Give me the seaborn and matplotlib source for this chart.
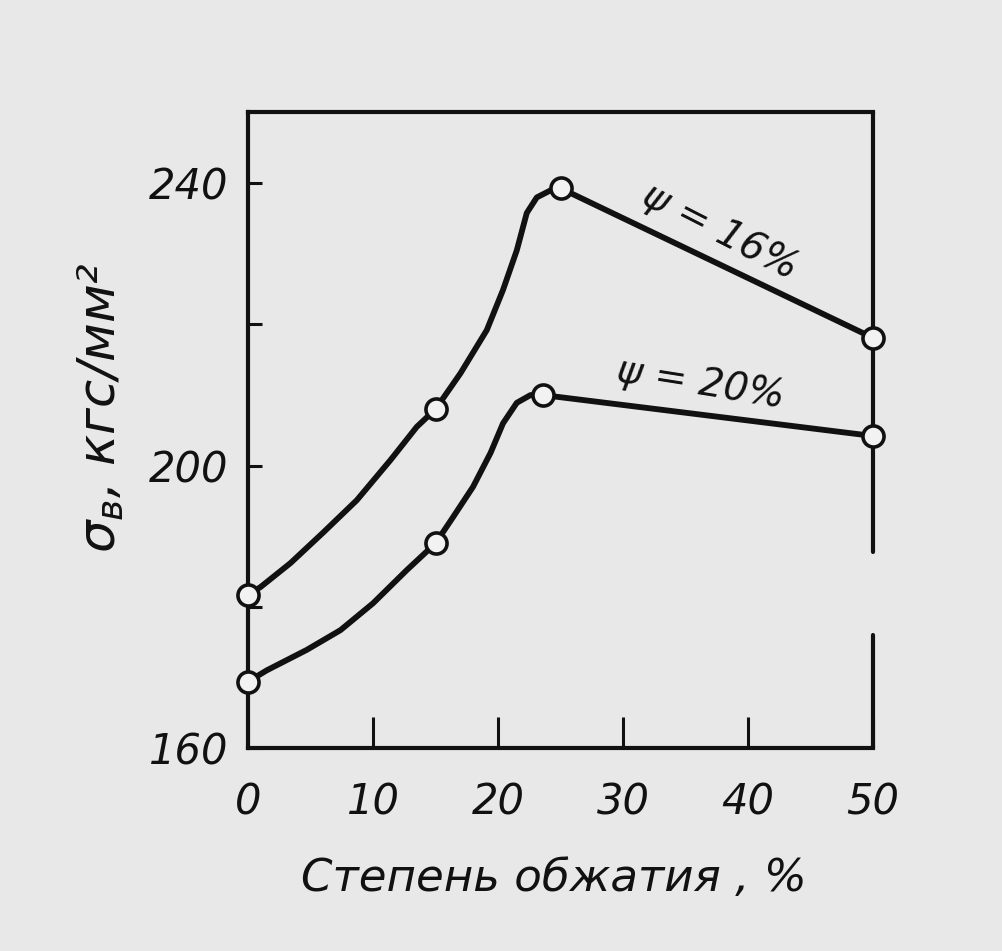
import numpy as np
import pandas as pd
import matplotlib
matplotlib.use("Agg")
import matplotlib.pyplot as plt
import seaborn as sns

# measured points (circles)
x_meas_16 = [0, 15, 25, 50]
y_meas_16 = [181.7, 208.0, 239.3, 218.1]
x_meas_20 = [0, 15, 23.6, 50]
y_meas_20 = [169.4, 189.0, 210.0, 204.2]

# hand-drawn curves
trace_x_16 = [0, 1.0, 3.4, 6.0, 8.7, 11.4, 13.5, 15, 17.0, 19.1, 20.4, 21.5, 22.3, 23.1, 24.2, 25, 50]
trace_y_16 = [181.7, 182.8, 186.2, 190.5, 195.1, 200.8, 205.5, 208.0, 213.1, 219.2, 224.9, 230.5, 235.8, 238.0, 239.0, 239.3, 218.1]
trace_x_20 = [0, 1.5, 4.7, 7.4, 10.0, 12.7, 15, 16.4, 18.0, 19.4, 20.4, 21.5, 22.6, 23.6, 50]
trace_y_20 = [169.4, 171.0, 173.9, 176.7, 180.5, 185.2, 189.0, 192.7, 197.0, 201.8, 206.0, 208.9, 210.0, 210.0, 204.2]

series_labels = ["ψ = 16%", "ψ = 20%"]
x_ticks = [0, 10, 20, 30, 40, 50]
y_ticks = [160, 180, 200, 220, 240]
y_ticklabels = ["160", "", "200", "", "240"]

paper = "#e8e8e8"
ink = "#111111"

sns.set_theme(style="ticks")
plt.rcParams["font.family"] = ["DejaVu Sans"]
plt.rcParams["font.style"] = "italic"
plt.rcParams["mathtext.fontset"] = "dejavusans"

fig = plt.figure(figsize=(10.03, 9.51), dpi=100, facecolor=paper)
ax = fig.add_axes([0.2473, 0.2135, 0.6231, 0.6687])
ax.set_facecolor(paper)

curves = pd.concat([
    pd.DataFrame({"x": trace_x_16, "y": trace_y_16, "s": series_labels[0]}),
    pd.DataFrame({"x": trace_x_20, "y": trace_y_20, "s": series_labels[1]}),
])
points = pd.concat([
    pd.DataFrame({"x": x_meas_16, "y": y_meas_16, "s": series_labels[0]}),
    pd.DataFrame({"x": x_meas_20, "y": y_meas_20, "s": series_labels[1]}),
])

sns.lineplot(data=curves, x="x", y="y", units="s", estimator=None, sort=False,
             color=ink, linewidth=4.2, ax=ax, legend=False)
sns.scatterplot(data=points, x="x", y="y", s=230, color="#f2f2f2",
                edgecolor=ink, linewidth=2.6, zorder=5, clip_on=False,
                ax=ax, legend=False)

ax.set_xlim(0, 50)
ax.set_ylim(160, 250.1)
ax.set_xticks(x_ticks)
ax.set_yticks(y_ticks)
ax.set_yticklabels(y_ticklabels)

ax.tick_params(axis="x", direction="in", length=22, width=2.2, color=ink,
               labelsize=30, pad=24, labelcolor=ink)
ax.tick_params(axis="y", direction="in", length=10, width=2.2, color=ink,
               labelsize=30, pad=14, labelcolor=ink)

for side in ["left", "top", "bottom"]:
    ax.spines[side].set_color(ink)
    ax.spines[side].set_linewidth(3)
# the right frame line is broken in the print
ax.spines["right"].set_visible(False)
ax.axvline(50, ymin=0, ymax=0.178, color=ink, lw=3, clip_on=False)
ax.axvline(50, ymin=0.308, ymax=1, color=ink, lw=3, clip_on=False)

ax.set_xlabel("Степень обжатия , %", fontsize=32.5, color=ink)
ax.xaxis.set_label_coords(0.49, -0.172)
ax.set_ylabel(r"$\sigma_{в}$, кгс/мм²", fontsize=37, color=ink)
ax.yaxis.set_label_coords(-0.195, 0.535)

ax.text(37.8, 233.1, series_labels[0], fontsize=28, color=ink,
        rotation=-27, ha="center", va="center")
ax.text(36.2, 211.7, series_labels[1], fontsize=28, color=ink,
        rotation=-9, ha="center", va="center")

plt.savefig("out.png", dpi=100, facecolor=paper)
